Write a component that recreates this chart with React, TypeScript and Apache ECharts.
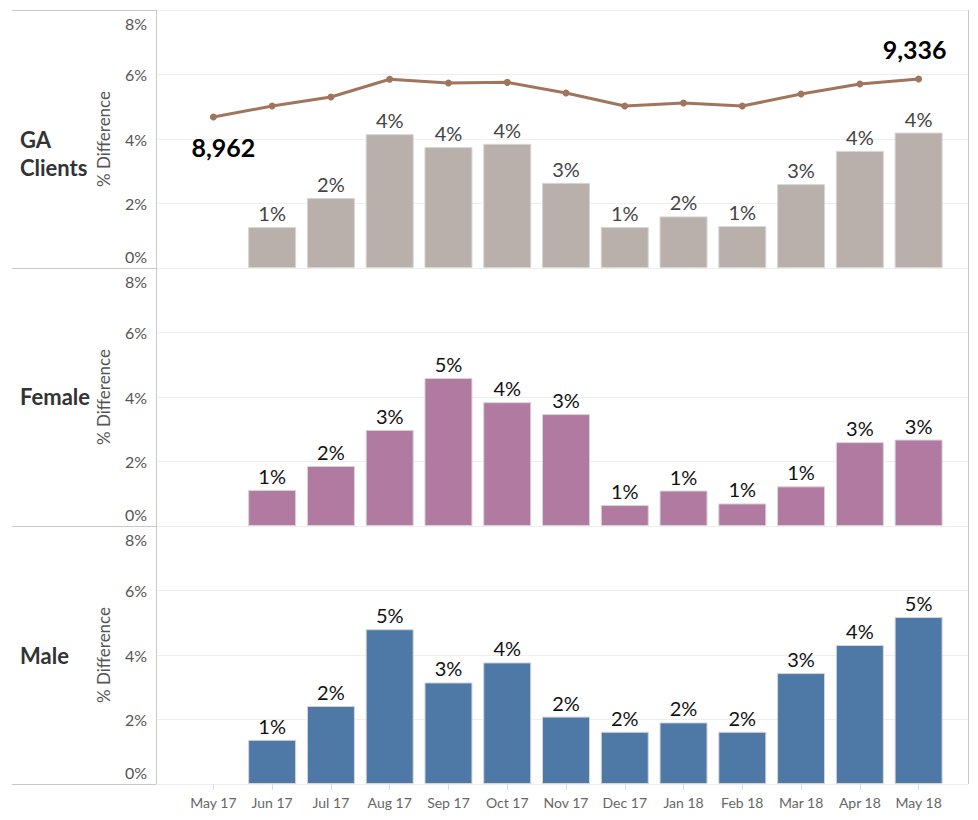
import React, { useEffect, useRef } from "react";
import * as echarts from "echarts";

const months = ["May 17", "Jun 17", "Jul 17", "Aug 17", "Sep 17", "Oct 17", "Nov 17", "Dec 17", "Jan 18", "Feb 18", "Mar 18", "Apr 18", "May 18"];
const gaClientsPct = [null, 1.27, 2.17, 4.15, 3.75, 3.85, 2.64, 1.27, 1.6, 1.3, 2.6, 3.63, 4.2];
const femalePct = [null, 1.12, 1.86, 2.98, 4.59, 3.84, 3.47, 0.65, 1.1, 0.7, 1.23, 2.6, 2.68];
const malePct = [null, 1.37, 2.42, 4.8, 3.15, 3.77, 2.09, 1.62, 1.91, 1.62, 3.44, 4.31, 5.18];
const gaClientsCount = [8962, 9070, 9159, 9333, 9297, 9303, 9198, 9070, 9100, 9070, 9188, 9287, 9336];
const panelNames = ["GA\nClients", "Female", "Male"];
const panelColors = ["#bab0ab", "#b07aa1", "#4e79a7"];
const panelLabelColors = ["#444444", "#111111", "#111111"];
const yMin = 0;
const yMax = 8;
const yInterval = 2;

const FONT = "Lato, 'Open Sans', sans-serif";

export default function App() {
  const ref = useRef<HTMLDivElement>(null);
  useEffect(() => {
    document.body.style.margin = "0";
    if (!ref.current) return;
    const chart = echarts.init(ref.current, null, { renderer: "svg" });

    const tops = [10, 268, 526];
    const h = 258;
    const frameLeft = 156;
    const frameRight = 968;
    const barLeft = 184;
    const barRight = 948;
    const W = 978;

    const pctSeries = [gaClientsPct, femalePct, malePct];

    const grids: any[] = [];
    const xAxes: any[] = [];
    const yAxes: any[] = [];
    const series: any[] = [];

    const tickStyle = { color: "#555", fontSize: 16, fontFamily: FONT };

    // frame grids
    tops.forEach((t, i) => {
      grids.push({ left: frameLeft, right: W - frameRight, top: t, height: h });
      xAxes.push({ type: "value", gridIndex: i, min: 0, max: 1, show: false });
      yAxes.push({
        type: "value",
        gridIndex: i,
        min: yMin,
        max: yMax,
        interval: yInterval,
        name: "% Difference",
        nameLocation: "middle",
        nameRotate: 90,
        nameGap: 44,
        nameTextStyle: { color: "#555", fontSize: 17, fontFamily: FONT },
        axisLine: { show: true, lineStyle: { color: "#c8c8c8", width: 1 } },
        axisTick: { show: false },
        splitLine: { show: true, lineStyle: { color: "#eeeeee", width: 1 } },
        axisLabel: {
          color: "#555",
          fontSize: 16,
          fontFamily: FONT,
          margin: 9,
          formatter: (v: number) => {
            if (v === yMin) return "{lo|" + v + "%}";
            if (v === yMax) return "{hi|" + v + "%}";
            return "{m|" + v + "%}";
          },
          rich: {
            lo: { ...tickStyle, padding: [0, 0, 24, 0] },
            hi: { ...tickStyle, padding: [26, 0, 0, 0] },
            m: { ...tickStyle },
          },
        },
      });
    });

    // bar grids
    tops.forEach((t, i) => {
      grids.push({ left: barLeft, right: W - barRight, top: t, height: h });
      xAxes.push({
        type: "category",
        gridIndex: 3 + i,
        data: months,
        axisLine: { show: false },
        axisTick: {
          show: i === 2,
          alignWithLabel: true,
          length: 6,
          lineStyle: { color: "#dddddd" },
        },
        axisLabel: {
          show: i === 2,
          interval: 0,
          hideOverlap: false,
          color: "#666",
          fontSize: 14,
          fontFamily: FONT,
          margin: 11,
        },
      });
      yAxes.push({ type: "value", gridIndex: 3 + i, min: yMin, max: yMax, show: false });
      series.push({
        type: "bar",
        xAxisIndex: 3 + i,
        yAxisIndex: 3 + i,
        data: pctSeries[i].map((v) => (v === null ? "-" : v)),
        barWidth: 48,
        itemStyle: { color: panelColors[i], borderColor: "#d6d6d6", borderWidth: 1 },
        label: {
          show: true,
          position: "top",
          distance: 4,
          color: panelLabelColors[i],
          fontSize: 20,
          fontFamily: FONT,
          formatter: (p: any) => Math.round(p.value) + "%",
        },
        z: 3,
      });
    });

    // line axis in top bar grid
    yAxes.push({ type: "value", gridIndex: 3, min: 7476, max: 10015, show: false });
    const last = gaClientsCount.length - 1;
    series.push({
      type: "line",
      xAxisIndex: 3,
      yAxisIndex: 6,
      data: gaClientsCount.map((v, i) => {
        if (i === 0)
          return { value: v, label: { show: true, position: "bottom", distance: 14, offset: [10, 0] } };
        if (i === last)
          return { value: v, label: { show: true, position: "top", distance: 14, offset: [-4, 0] } };
        return v;
      }),
      symbol: "circle",
      symbolSize: 7,
      lineStyle: { color: "#a1755d", width: 3 },
      itemStyle: { color: "#a1755d" },
      label: {
        show: false,
        color: "#000",
        fontSize: 25,
        fontWeight: "bold",
        fontFamily: FONT,
        formatter: (p: any) => p.value.toLocaleString("en-US"),
      },
      z: 5,
    });

    const graphics: any[] = [];
    const lineStyle = { stroke: "#c8c8c8", lineWidth: 1 };
    [10, 268, 526, 784].forEach((y) => {
      graphics.push({ type: "line", shape: { x1: 12, y1: y + 0.5, x2: frameRight, y2: y + 0.5 }, style: lineStyle, silent: true });
    });
    graphics.push({ type: "line", shape: { x1: frameRight + 0.5, y1: 10, x2: frameRight + 0.5, y2: 784 }, style: lineStyle, silent: true });
    const labelY = [153, 396, 655];
    panelNames.forEach((n, i) => {
      graphics.push({
        type: "text",
        left: 20,
        top: labelY[i] - (n.includes("\n") ? 28 : 14),
        style: {
          text: n,
          fill: "#333",
          font: `bold 22px ${FONT}`,
          lineHeight: 28,
        },
      });
    });

    chart.setOption({
      animation: false,
      textStyle: { fontFamily: FONT },
      grid: grids,
      xAxis: xAxes,
      yAxis: yAxes,
      series,
      graphic: graphics,
    });
    return () => chart.dispose();
  }, []);
  return <div ref={ref} style={{ width: 978, height: 820 }} />;
}
